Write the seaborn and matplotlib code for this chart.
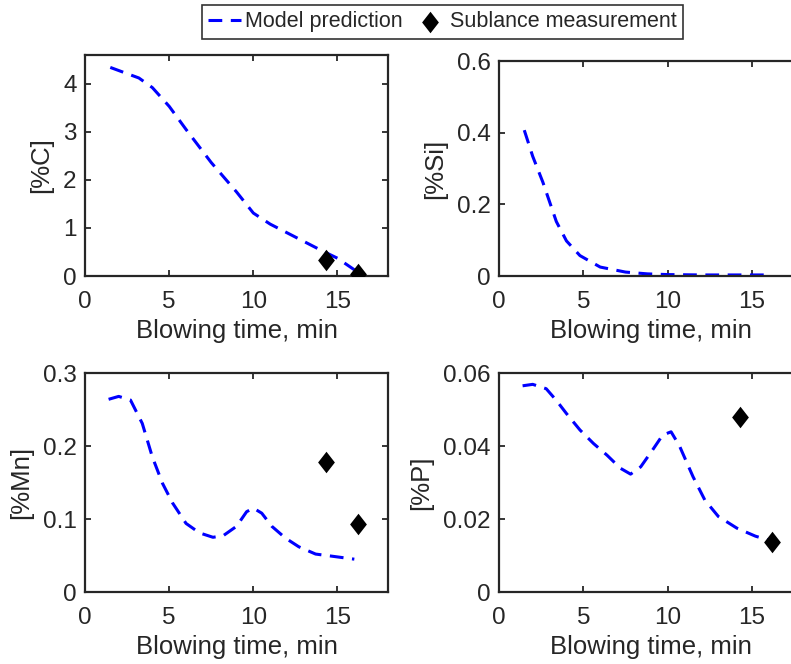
import numpy as np
import matplotlib
matplotlib.use("Agg")
import matplotlib.pyplot as plt
from matplotlib.ticker import FuncFormatter
import seaborn as sns

# model prediction curves (blowing time, min -> content)
c_time = [1.5, 3.2, 4.0, 5.0, 6.0, 7.5, 9.0, 10.0, 11.0, 12.0, 13.0, 14.0, 15.0, 16.0]
c_pred = [4.34, 4.12, 3.92, 3.53, 3.05, 2.36, 1.75, 1.31, 1.08, 0.90, 0.72, 0.54, 0.37, 0.13]

si_time = [1.5, 2.0, 2.6, 3.4, 4.0, 4.8, 6.0, 7.5, 8.8, 10.0, 12.0, 14.0, 16.0]
si_pred = [0.407, 0.334, 0.262, 0.152, 0.098, 0.057, 0.025, 0.011, 0.006, 0.004, 0.003, 0.003, 0.003]

mn_time = [1.4, 2.0, 2.7, 3.4, 4.0, 4.6, 5.2, 6.0, 6.8, 7.6, 8.2, 9.0, 9.6, 10.0, 10.5,
           11.1, 11.9, 12.7, 13.7, 14.7, 16.0]
mn_pred = [0.264, 0.268, 0.263, 0.231, 0.185, 0.149, 0.122, 0.094, 0.081, 0.075, 0.077,
           0.090, 0.110, 0.115, 0.108, 0.090, 0.074, 0.062, 0.052, 0.049, 0.045]

p_time = [1.4, 2.0, 2.8, 3.4, 4.0, 4.8, 5.6, 6.4, 7.2, 7.8, 8.4, 9.1, 9.7, 10.2, 10.7,
          11.5, 12.2, 13.0, 14.1, 15.2, 16.0]
p_pred = [0.0565, 0.0569, 0.0557, 0.0525, 0.0489, 0.0444, 0.0407, 0.0375, 0.0339, 0.0323,
          0.0343, 0.0389, 0.0430, 0.0439, 0.0400, 0.0316, 0.0252, 0.0207, 0.0175, 0.0153, 0.0142]

# sublance measurements
meas_time = [14.3, 16.2]
c_meas = [0.33, 0.05]
si_meas = [np.nan, np.nan]
mn_meas = [0.178, 0.093]
p_meas = [0.048, 0.0138]

panels = [
    ("[%C]", c_time, c_pred, c_meas, [0, 1, 2, 3, 4], 4.6),
    ("[%Si]", si_time, si_pred, si_meas, [0, 0.2, 0.4, 0.6], 0.6),
    ("[%Mn]", mn_time, mn_pred, mn_meas, [0, 0.1, 0.2, 0.3], 0.3),
    ("[%P]", p_time, p_pred, p_meas, [0, 0.02, 0.04, 0.06], 0.06),
]

# axes boxes in figure fractions [left, bottom, width, height]
boxes = [
    [0.1075, 0.5843, 0.383, 0.333],
    [0.6308, 0.5843, 0.384, 0.3238],
    [0.1075, 0.1084, 0.383, 0.3298],
    [0.6308, 0.1084, 0.384, 0.3298],
]

sns.set_style("ticks")
plt.rcParams['font.family'] = ['Liberation Sans', 'DejaVu Sans']

fig = plt.figure(figsize=(7.91, 6.64), dpi=100)
diamond = [(0, 1), (0.78, 0), (0, -1), (-0.78, 0), (0, 1)]
edge = "#262626"

for (ylab, t, pred, meas, yticks, ytop), box in zip(panels, boxes):
    ax = fig.add_axes(box)
    sns.lineplot(x=t, y=pred, ax=ax, color="blue", linewidth=2.2, sort=False,
                 estimator=None, label="Model prediction", legend=False)
    ax.lines[-1].set_dashes([4.5, 2.8])
    sns.scatterplot(x=meas_time, y=meas, ax=ax, color="black", marker=diamond,
                    s=240, linewidth=0, label="Sublance measurement", legend=False,
                    zorder=3)
    ax.set_xlim(0, 18)
    ax.set_ylim(0, ytop)
    ax.set_xticks([0, 5, 10, 15])
    ax.set_yticks(yticks)
    ax.yaxis.set_major_formatter(FuncFormatter(lambda v, p: f"{v:g}"))
    ax.set_xlabel("Blowing time, min", fontsize=18.5, color=edge, labelpad=4)
    ax.set_ylabel(ylab, fontsize=18.5, color=edge, labelpad=7)
    ax.tick_params(direction="in", top=True, right=True, labelsize=17.5,
                   length=4, width=1.3, colors=edge)
    ax.tick_params(axis="x", pad=11)
    ax.tick_params(axis="y", pad=6)
    for sp in ax.spines.values():
        sp.set_visible(True)
        sp.set_linewidth(1.6)
        sp.set_color(edge)

h, l = fig.axes[0].get_legend_handles_labels()
leg = fig.legend(h, l, loc="center", bbox_to_anchor=(0.559, 0.967), ncol=2,
                 fontsize=15.5, frameon=True, fancybox=False, handlelength=1.55,
                 handletextpad=0.15, columnspacing=0.5, borderpad=0.3,
                 borderaxespad=0)
leg.get_frame().set_edgecolor("black")
leg.get_frame().set_linewidth(1.2)

fig.savefig("out.png", dpi=100)
